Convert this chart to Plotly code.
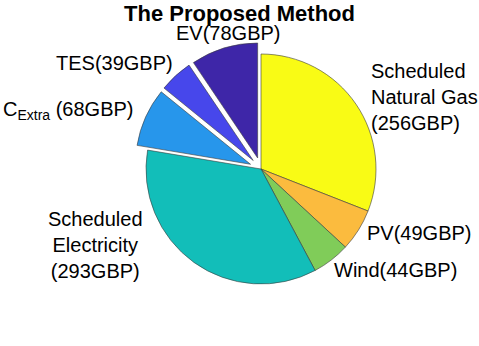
import plotly.graph_objects as go

# ---- data ----
names = ["Scheduled<br>Natural Gas", "PV", "Wind", "Scheduled<br>Electricity",
         "C<sub>Extra</sub> ", "TES", "EV"]
values = [256, 49, 44, 293, 68, 39, 78]
pulls = [0, 0, 0, 0, 0.1, 0.1, 0.1]
colors = ["#F9FB15", "#FBBB3E", "#80CC59", "#12BEB9", "#2796EB", "#4747EB", "#3E26A8"]
unit = "GBP"

W, H = 479, 346

# label anchor positions in pixels (x, y, xanchor, align)
label_pos = [
    (369, 97, "left", "left"),
    (365, 233, "left", "left"),
    (332, 270, "left", "left"),
    (95, 245, "center", "center"),
    (136, 110, "right", "right"),
    (175, 63, "right", "right"),
    (228, 33, "center", "center"),
]

fig = go.Figure()
fig.add_trace(go.Pie(
    values=values,
    labels=[n.replace("<br>", " ") for n in names],
    sort=False,
    direction="clockwise",
    rotation=0,
    pull=pulls,
    marker=dict(colors=colors, line=dict(color="#3a3a3a", width=0.6)),
    textinfo="none",
    hoverinfo="label+value",
    showlegend=False,
    domain=dict(x=[134.5 / W, 387.5 / W], y=[1 - 295.5 / H, 1 - 42.5 / H]),
))

for n, v, (px, py, xa, al) in zip(names, values, label_pos):
    if "<br>" in n:
        txt = f"{n}<br>({v}{unit})"
    else:
        txt = f"{n}({v}{unit})"
    fig.add_annotation(
        x=px / W, y=1 - py / H, xref="paper", yref="paper",
        text=txt, showarrow=False, xanchor=xa, yanchor="middle", align=al,
        font=dict(family="Liberation Sans", size=20, color="#000"),
    )

fig.update_layout(
    width=W, height=H,
    margin=dict(l=0, r=0, t=0, b=0),
    paper_bgcolor="white", plot_bgcolor="white",
    title=dict(text="<b>The Proposed Method</b>", x=0.5, xanchor="center",
               y=1 - 13 / H, yanchor="middle", yref="container",
               font=dict(family="Liberation Sans", size=22, color="#000")),
)

fig.write_html("out.html", config={"displayModeBar": False},
               post_script="document.body.style.margin='0';document.body.style.overflow='hidden';")
